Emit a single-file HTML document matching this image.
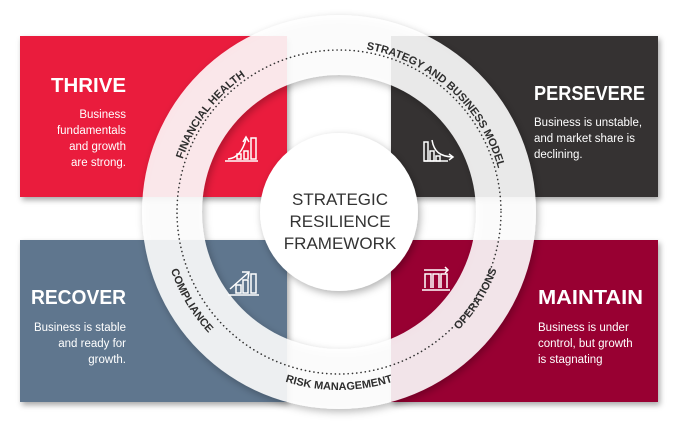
<!DOCTYPE html>
<html><head><meta charset="utf-8"><style>
html,body{margin:0;padding:0;background:#fff;}
body{width:678px;height:433px;overflow:hidden;position:relative;font-family:"Liberation Sans",sans-serif;}
</style></head><body>
<svg width="678" height="433" viewBox="0 0 678 433" xmlns="http://www.w3.org/2000/svg" style="position:absolute;left:0;top:0">
<defs>
<filter id="sh" x="-20%" y="-20%" width="140%" height="140%"><feDropShadow dx="2" dy="3" stdDeviation="3" flood-color="#000" flood-opacity="0.35"/></filter>
<filter id="sh2" x="-20%" y="-20%" width="140%" height="140%"><feDropShadow dx="2" dy="3" stdDeviation="4" flood-color="#000" flood-opacity="0.3"/></filter>
<path id="cwT" d="M 339 212 m -165 0 a 165 165 0 1 1 330 0 a 165 165 0 1 1 -330 0"/>
<path id="ccwR" d="M 339 212 m -178 0 a 178 178 0 1 0 356 0 a 178 178 0 1 0 -356 0"/>
<path id="ccwO" d="M 339 212 m -168 0 a 168 168 0 1 0 336 0 a 168 168 0 1 0 -336 0"/>
</defs>
<rect x="20" y="36" width="267" height="161" fill="#ea1a3c" filter="url(#sh)"/>
<rect x="391" y="36" width="267" height="161" fill="#343231" filter="url(#sh)"/>
<rect x="20" y="240" width="267" height="162" fill="#5f768e" filter="url(#sh)"/>
<rect x="391" y="240" width="267" height="162" fill="#980030" filter="url(#sh)"/>

<path d="M 339 15 a 197 197 0 1 1 0 394 a 197 197 0 1 1 0 -394 Z M 339 75 a 137 137 0 1 0 0 274 a 137 137 0 1 0 0 -274 Z" fill-rule="evenodd" fill="#fff" fill-opacity="0.88" filter="url(#sh2)"/>
<circle cx="339" cy="212" r="162" fill="none" stroke="#333" stroke-width="1.6" stroke-dasharray="0.1 4.2" stroke-linecap="round"/>
<circle cx="339" cy="212" r="79" fill="#fff" filter="url(#sh2)"/>

<g font-family="Liberation Sans, sans-serif" font-weight="bold" font-size="11" fill="#2e2e2e">
<text><textPath href="#cwT" startOffset="10.3%" text-anchor="middle">FINANCIAL HEALTH</textPath></text>
<text><textPath href="#cwT" startOffset="36.7%" text-anchor="middle">STRATEGY AND BUSINESS MODEL</textPath></text>
<text><textPath href="#ccwR" startOffset="25%" text-anchor="middle">RISK MANAGEMENT</textPath></text>
<text><textPath href="#ccwR" startOffset="8.6%" text-anchor="middle">COMPLIANCE</textPath></text>
<text><textPath href="#ccwO" startOffset="41%" text-anchor="middle">OPERATIONS</textPath></text>
</g>

<g font-family="Liberation Sans, sans-serif" fill="#fff">
<text x="51" y="92" font-weight="bold" font-size="20" textLength="75" lengthAdjust="spacingAndGlyphs">THRIVE</text>
<text x="126" y="118" text-anchor="end" font-size="11.5">Business</text>
<text x="126" y="134" text-anchor="end" font-size="11.5">fundamentals</text>
<text x="126" y="150" text-anchor="end" font-size="11.5">and growth</text>
<text x="126" y="166" text-anchor="end" font-size="11.5">are strong.</text>

<text x="534" y="100" font-weight="bold" font-size="20" textLength="111" lengthAdjust="spacingAndGlyphs">PERSEVERE</text>
<text x="534" y="126" font-size="11.5">Business is unstable,</text>
<text x="534" y="142" font-size="11.5">and market share is</text>
<text x="534" y="158" font-size="11.5">declining.</text>

<text x="31" y="304" font-weight="bold" font-size="20" textLength="95" lengthAdjust="spacingAndGlyphs">RECOVER</text>
<text x="126" y="331" text-anchor="end" font-size="11.5">Business is stable</text>
<text x="126" y="347" text-anchor="end" font-size="11.5">and ready for</text>
<text x="126" y="363" text-anchor="end" font-size="11.5">growth.</text>

<text x="538" y="304" font-weight="bold" font-size="20" textLength="105" lengthAdjust="spacingAndGlyphs">MAINTAIN</text>
<text x="538" y="331" font-size="11.5">Business is under</text>
<text x="538" y="347" font-size="11.5">control, but growth</text>
<text x="538" y="363" font-size="11.5">is stagnating</text>
</g>

<g font-family="Liberation Sans, sans-serif" font-size="17" fill="#333" text-anchor="middle">
<text x="340" y="205">STRATEGIC</text>
<text x="340" y="227">RESILIENCE</text>
<text x="340" y="249">FRAMEWORK</text>
</g>

<g stroke="#fff" stroke-width="1.5" fill="none">
<path d="M225 161 H258"/><path d="M228 159 C238 158 243 150 246 139"/><path d="M243 142 L246 137 L249 142"/>
<rect x="237" y="154" width="4" height="5"/><rect x="244" y="151" width="4" height="8"/><rect x="251" y="138" width="5" height="21"/>
<path d="M424 161 H448"/><rect x="424" y="142" width="4" height="19"/><rect x="430" y="151" width="4" height="10"/><rect x="436" y="156" width="4" height="5"/>
<path d="M432 140 C434 152 440 156 452 157"/><path d="M449 154 L453 157 L449 160"/>
<path d="M228 295 H259"/><rect x="236" y="285" width="5" height="8"/><rect x="243" y="280" width="5" height="13"/><rect x="251" y="274" width="5" height="19"/>
<path d="M230 289 L248 273"/><path d="M242 272 L249 272 L248 279"/>
<path d="M422 290 H450"/><path d="M425 288 V274 H431 V288 M433 288 V274 H439 V288 M441 288 V274 H447 V288"/>
<path d="M424 270 H448"/><path d="M445 267 L448 270 L445 273"/>
</g>
</svg>
</body></html>
